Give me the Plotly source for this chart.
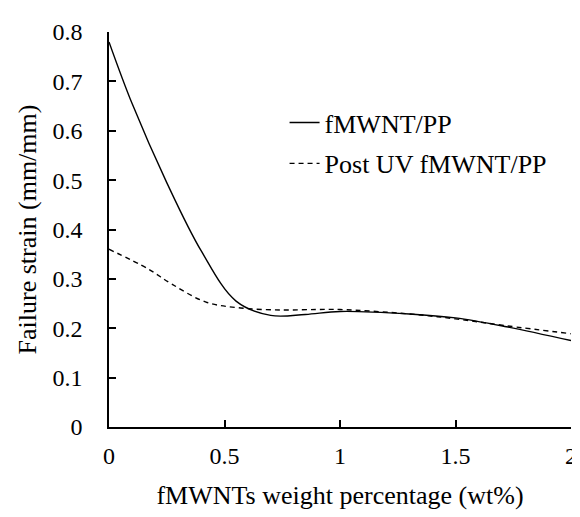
import plotly.graph_objects as go

# data
x_pp = [0, 0.1, 0.25, 0.4, 0.55, 0.7, 0.85, 1.0, 1.3, 1.5, 1.72, 2.0]
y_pp = [0.78, 0.655, 0.495, 0.356, 0.255, 0.226, 0.228, 0.234, 0.229, 0.221, 0.203, 0.175]

x_uv = [0, 0.17, 0.27, 0.42, 0.57, 0.75, 0.9, 1.0, 1.3, 1.5, 1.72, 2.0]
y_uv = [0.36, 0.32, 0.29, 0.253, 0.241, 0.237, 0.238, 0.238, 0.229, 0.219, 0.205, 0.189]

x_ticks = [0, 0.5, 1, 1.5, 2]
x_ticklabels = ["0", "0.5", "1", "1.5", "2"]
y_ticks = [0, 0.1, 0.2, 0.3, 0.4, 0.5, 0.6, 0.7, 0.8]
y_ticklabels = ["0", "0.1", "0.2", "0.3", "0.4", "0.5", "0.6", "0.7", "0.8"]

FONT = "Liberation Serif, Times New Roman, serif"

fig = go.Figure()
fig.add_trace(go.Scatter(x=x_pp, y=y_pp, mode="lines", name="fMWNT/PP",
                         legendgroup="a",
                         line=dict(color="black", width=1.4, shape="spline", smoothing=1.0)))
fig.add_trace(go.Scatter(x=x_uv, y=y_uv, mode="lines", name="Post UV fMWNT/PP",
                         legendgroup="b",
                         line=dict(color="black", width=1.4, dash="5px,4px", shape="spline", smoothing=1.0)))

fig.update_layout(
    width=580, height=517,
    paper_bgcolor="white", plot_bgcolor="white",
    margin=dict(l=101, r=11, t=21, b=98),
    font=dict(family=FONT, size=24, color="black"),
    showlegend=True,
    legend=dict(x=0.38, y=0.83, xanchor="left", yanchor="top",
                bgcolor="rgba(0,0,0,0)", borderwidth=0,
                tracegroupgap=4, font=dict(family=FONT, size=26, color="black")),
)
fig.update_xaxes(range=[0, 2], tickvals=x_ticks, ticktext=x_ticklabels,
                 showline=True, linecolor="black", linewidth=1.5, mirror=False,
                 ticks="inside", ticklen=7, tickwidth=1.5, tickcolor="black",
                 showgrid=False, zeroline=False, ticklabelstandoff=6,
                 tickfont=dict(family=FONT, size=24, color="black"),
                 title=dict(text="fMWNTs weight percentage (wt%)", standoff=18,
                            font=dict(family=FONT, size=26, color="black")))
fig.update_yaxes(range=[0, 0.8], tickvals=y_ticks, ticktext=y_ticklabels,
                 showline=True, linecolor="black", linewidth=1.5, mirror=False,
                 ticks="inside", ticklen=7, tickwidth=1.5, tickcolor="black",
                 showgrid=False, zeroline=False, ticklabelstandoff=20,
                 tickfont=dict(family=FONT, size=24, color="black"),
                 title=dict(text="Failure strain (mm/mm)", standoff=8,
                            font=dict(family=FONT, size=26, color="black")))

fig.write_html("out.html")
